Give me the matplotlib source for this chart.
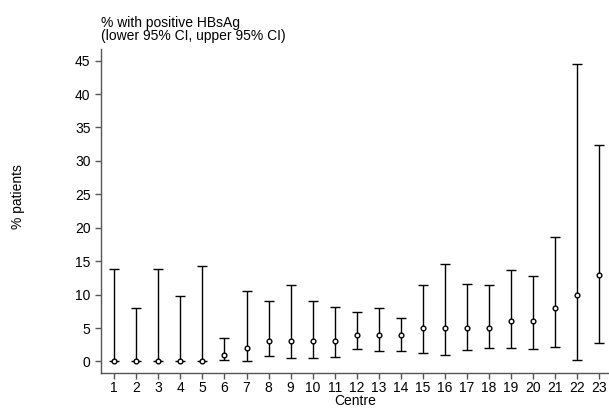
import numpy as np
import matplotlib
matplotlib.use("Agg")
import matplotlib.pyplot as plt

plt.rcParams['font.family'] = ['Liberation Sans', 'DejaVu Sans']

# datos
centros = list(range(1, 24))
porcentaje = [0, 0, 0, 0, 0, 1, 2, 3, 3, 3, 3, 4, 4, 4, 5, 5, 5, 5, 6, 6, 8, 10, 13]
ic_inferior = [0, 0, 0, 0, 0, 0.15, 0, 0.74, 0.44, 0.44, 0.64, 1.87, 1.62, 1.62,
               1.28, 1.03, 1.72, 2.02, 2.02, 1.82, 2.11, 0.24, 2.7]
ic_superior = [13.76, 8.06, 13.76, 9.83, 14.26, 3.44, 10.57, 9.09, 11.4, 9.0, 8.1,
               7.39, 7.98, 6.55, 11.48, 14.63, 11.62, 11.48, 13.7, 12.76, 18.58, 44.5, 32.4]
ticks_y = [0, 5, 10, 15, 20, 25, 30, 35, 40, 45]

x = np.array(centros)
p = np.array(porcentaje)
err = [p - np.array(ic_inferior), np.array(ic_superior) - p]

fig = plt.figure(figsize=(6.09, 4.09), dpi=100)
ax = fig.add_axes([0.1658, 0.088, 0.8342, 0.792])

ax.errorbar(x, p, yerr=err, fmt='none', ecolor='black', elinewidth=1.0,
            capsize=3.6, capthick=1.0)
ax.plot(x, p, 'o', markersize=3.4, markerfacecolor='white',
        markeredgecolor='black', markeredgewidth=1.0)

ax.set_xlim(0.397, 23.445)
ax.set_ylim(-1.73, 46.72)
ax.set_xticks(centros)
ax.set_yticks(ticks_y)

for s in ['top', 'right']:
    ax.spines[s].set_visible(False)
for s in ['left', 'bottom']:
    ax.spines[s].set_color('#555555')
    ax.spines[s].set_linewidth(1.0)
ax.tick_params(axis='both', colors='#555555', labelcolor='black',
               labelsize=10, length=4.5, width=1.0)
ax.tick_params(axis='y', pad=3)
ax.tick_params(axis='x', pad=1.5)

ax.set_xlabel("Centre", fontsize=10, labelpad=-1)
fig.text(0.030, 0.52, "% patients", rotation=90, fontsize=10,
         ha='center', va='center')
fig.text(0.1658, 0.962, "% with positive HBsAg\n(lower 95% CI, upper 95% CI)",
         fontsize=10, ha='left', va='top', linespacing=0.95)

fig.savefig("out.png", dpi=100)
